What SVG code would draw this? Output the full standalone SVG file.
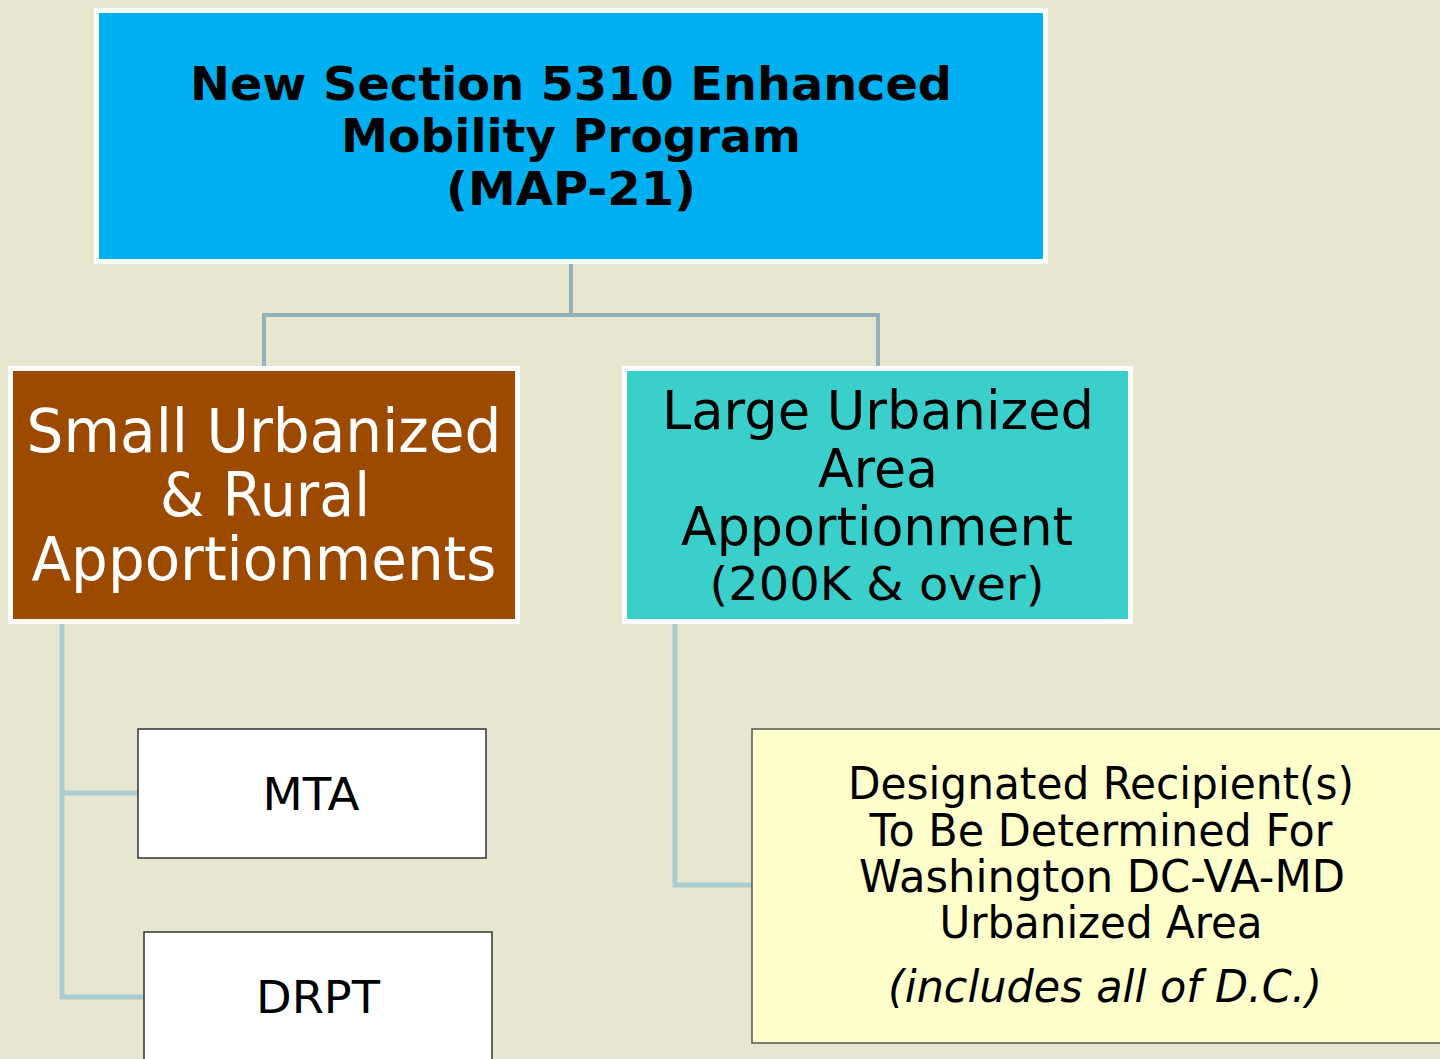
<svg xmlns="http://www.w3.org/2000/svg" width="1440" height="1059" viewBox="0 0 1440 1059">
<style>
text{font-family:"DejaVu Sans","Noto Sans",sans-serif;text-anchor:middle}
.top{font-weight:bold;font-size:47px;fill:#000}
.brn{font-size:60px;fill:#fff}
.tel{font-size:53px;fill:#000}
.tel2{font-size:47px;fill:#000}
.box{font-size:45px;fill:#000}
.yel{font-size:44px;fill:#000}
.c1{fill:none;stroke:#93B2B8;stroke-width:4}
.c2{fill:none;stroke:#A9CDD1;stroke-width:5}
</style>
<rect width="1440" height="1059" fill="#E7E7D0"/>
<g id="connectors">
<path class="c1" d="M571 264V315M264 366V315H878V366"/>
<path class="c2" d="M62 624V997H144M62 793H138"/>
<path class="c2" d="M675 624V885H752"/>
</g>
<g id="top">
<rect x="96.5" y="10.5" width="949" height="251" fill="#00B0F0" stroke="#fff" stroke-width="5"/>
<text class="top" x="571" y="100" textLength="762" lengthAdjust="spacingAndGlyphs">New Section 5310 Enhanced</text>
<text class="top" x="571" y="152" textLength="460" lengthAdjust="spacingAndGlyphs">Mobility Program</text>
<text class="top" x="571" y="205" textLength="250" lengthAdjust="spacingAndGlyphs">(MAP-21)</text>
</g>
<g id="small">
<rect x="10.5" y="368.5" width="507" height="253" fill="#9C4A00" stroke="#fff" stroke-width="5"/>
<text class="brn" x="264" y="452" textLength="475" lengthAdjust="spacingAndGlyphs">Small Urbanized</text>
<text class="brn" x="265" y="516" textLength="210" lengthAdjust="spacingAndGlyphs">&amp; Rural</text>
<text class="brn" x="264" y="580" textLength="465" lengthAdjust="spacingAndGlyphs">Apportionments</text>
</g>
<g id="large">
<rect x="624.5" y="368.5" width="506" height="253" fill="#3BCFCB" stroke="#fff" stroke-width="5"/>
<text class="tel" x="878" y="429" textLength="432" lengthAdjust="spacingAndGlyphs">Large Urbanized</text>
<text class="tel" x="878" y="487" textLength="120" lengthAdjust="spacingAndGlyphs">Area</text>
<text class="tel" x="877" y="545" textLength="392" lengthAdjust="spacingAndGlyphs">Apportionment</text>
<text class="tel2" x="877" y="600" textLength="335" lengthAdjust="spacingAndGlyphs">(200K &amp; over)</text>
</g>
<g id="mta">
<rect x="138" y="729" width="348" height="129" fill="#fff" stroke="#333" stroke-width="1.5"/>
<text class="box" x="311" y="810" textLength="97" lengthAdjust="spacingAndGlyphs">MTA</text>
</g>
<g id="drpt">
<rect x="144" y="932" width="348" height="140" fill="#fff" stroke="#333" stroke-width="1.5"/>
<text class="box" x="318" y="1013" textLength="124" lengthAdjust="spacingAndGlyphs">DRPT</text>
</g>
<g id="recipient">
<rect x="752" y="729" width="700" height="314" fill="#FFFFCC" stroke="#555" stroke-width="1.5"/>
<text class="yel" x="1101" y="799" textLength="506" lengthAdjust="spacingAndGlyphs">Designated Recipient(s)</text>
<text class="yel" x="1101" y="846" textLength="463" lengthAdjust="spacingAndGlyphs">To Be Determined For</text>
<text class="yel" x="1102" y="892" textLength="486" lengthAdjust="spacingAndGlyphs">Washington DC-VA-MD</text>
<text class="yel" x="1101" y="938" textLength="323" lengthAdjust="spacingAndGlyphs">Urbanized Area</text>
<text class="yel" x="1105" y="1002" font-style="italic" textLength="434" lengthAdjust="spacingAndGlyphs">(includes all of D.C.)</text>
</g>
</svg>
